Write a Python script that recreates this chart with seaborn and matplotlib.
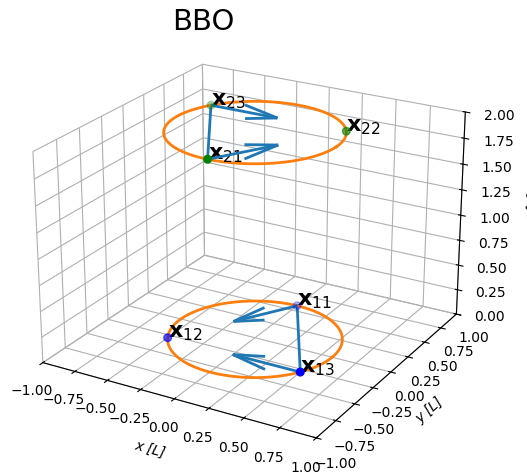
import numpy as np
import matplotlib
matplotlib.use("Agg")
import matplotlib.pyplot as plt
import seaborn as sns

# ---- data ----
radius = 1 / np.sqrt(3)            # equilateral triangle of side 1
layer_heights = [0.0, 2.0]
layer1_angles_deg = [90, 210, 330]     # x11, x12, x13
layer2_angles_deg = [270, 30, 150]     # x21, x22, x23
layer1_labels = [r"$\mathbf{x}_{11}$", r"$\mathbf{x}_{12}$", r"$\mathbf{x}_{13}$"]
layer2_labels = [r"$\mathbf{x}_{21}$", r"$\mathbf{x}_{22}$", r"$\mathbf{x}_{23}$"]
layer_colors = ["b", "g"]
axis_ticks_xy = [-1.0, -0.75, -0.5, -0.25, 0.0, 0.25, 0.5, 0.75, 1.0]
axis_ticks_z = [0.0, 0.25, 0.5, 0.75, 1.0, 1.25, 1.5, 1.75, 2.0]

pal = sns.color_palette("tab10")

fig = plt.figure(figsize=(5.27, 4.73), dpi=100)
ax = fig.add_axes([0.087, 0.104, 0.775, 0.77], projection="3d")
ax.view_init(elev=23, azim=-60)
ax.set_box_aspect((4, 4, 2.9), zoom=1.31)

circ = np.linspace(0, 2 * np.pi, 200)
for h, angs, labs, col in zip(layer_heights,
                              [layer1_angles_deg, layer2_angles_deg],
                              [layer1_labels, layer2_labels], layer_colors):
    a = np.deg2rad(angs)
    px, py = radius * np.cos(a), radius * np.sin(a)
    pz = np.full(3, h)
    ax.plot([px[0], px[2]], [py[0], py[2]], [pz[0], pz[2]], color=pal[0], lw=2)
    ax.plot(radius * np.cos(circ), radius * np.sin(circ), np.full_like(circ, h),
            color=pal[1], lw=2)
    for i in (0, 2):
        ax.quiver(px[i], py[i], pz[i], (px[1] - px[i]) / 2, (py[1] - py[i]) / 2, 0,
                  color=pal[0], lw=2, arrow_length_ratio=0.5)
    ax.scatter(px, py, pz, color=col, s=30)
    for i in range(3):
        ax.text(px[i], py[i], pz[i], labs[i], size=16)

ax.set_xlim(-1, 1)
ax.set_ylim(-1, 1)
ax.set_zlim(0, 2)
ax.set_xticks(axis_ticks_xy)
ax.set_yticks(axis_ticks_xy)
ax.set_zticks(axis_ticks_z)
ax.tick_params(axis="x", pad=1)
ax.tick_params(axis="y", pad=1)
for axis in (ax.xaxis, ax.yaxis, ax.zaxis):
    axis.set_pane_color((1, 1, 1, 0))
    axis.pane.set_edgecolor("#d0d0d0")
ax.set_xlabel("x [L]", style="italic", labelpad=-1)
ax.set_ylabel("y [L]", style="italic", labelpad=-2)
ax.set_zlabel("z [L]", style="italic")
ax.set_title("BBO", fontsize=21, x=0.371, y=1.175, pad=0)

fig.savefig("out.png", dpi=100)
